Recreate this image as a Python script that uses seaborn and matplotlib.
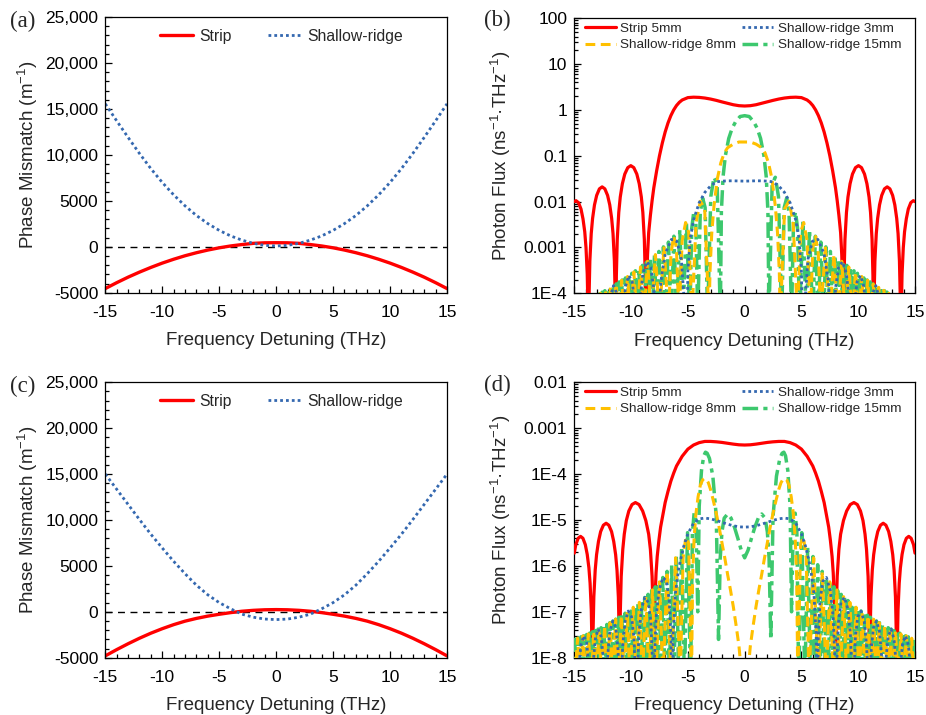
import numpy as np
import matplotlib
matplotlib.use("Agg")
import matplotlib.pyplot as plt
import seaborn as sns
from matplotlib.ticker import FixedLocator, MultipleLocator, LogLocator, NullFormatter

# ---------------- data (curves are symmetric, x >= 0 half given) ----------------
F_HALF = [0, 1, 2, 3, 4, 5, 6, 7, 8, 9, 10, 11, 12, 13, 14, 15]
# panel (a): phase mismatch (1/m)
STRIP_A = [440, 430, 370, 240, 85, -115, -360, -650, -980, -1360, -1780, -2250, -2760, -3310, -3910, -4550]
SHALLOW_A = [80, 150, 370, 720, 1180, 1780, 2520, 3400, 4450, 5650, 7000, 8500, 10150, 11900, 13700, 15550]
# panel (c): phase mismatch (1/m)
STRIP_C = [240, 220, 160, 60, -90, -270, -470, -720, -1020, -1400, -1840, -2330, -2880, -3480, -4120, -4800]
SHALLOW_C = [-850, -790, -590, -260, 330, 1000, 1850, 2900, 4150, 5500, 6950, 8450, 10050, 11700, 13350, 15000]

NB = 3e-5   # value at a null (below the 1E-4 floor) in panel (b)
ND = 3e-9   # value at a null (below the 1E-8 floor) in panel (d)

# panel (b): photon flux, (x THz, y ns^-1 THz^-1)
STRIP_B = [(0, 1.22), (0.5, 1.24), (1, 1.3), (1.5, 1.4), (2, 1.5), (2.5, 1.62), (3, 1.73), (3.5, 1.82),
           (4, 1.88), (4.5, 1.9), (5, 1.86), (5.5, 1.65), (5.75, 1.47), (6, 1.25), (6.25, 1.0), (6.5, 0.75),
           (6.75, 0.52), (7, 0.33), (7.25, 0.19), (7.5, 0.1), (7.75, 0.047), (8, 0.02), (8.15, 0.0105),
           (8.3, 0.005), (8.45, 0.0021), (8.55, 0.0007), (8.62, 0.0002), (8.7, 1e-7),
           (8.753, 2.4e-4), (8.833, 0.0015), (8.965, 0.0058), (9.098, 0.0126), (9.283, 0.0246),
           (9.495, 0.0399), (9.76, 0.0552), (10.025, 0.061), (10.29, 0.0552), (10.555, 0.0399),
           (10.767, 0.0246), (10.953, 0.0126), (11.085, 0.0058), (11.218, 0.0015), (11.297, 2.4e-4),
           (11.35, 1e-7), (11.398, 8.3e-5), (11.47, 5.1e-4), (11.59, 0.002), (11.71, 0.0043),
           (11.878, 0.0085), (12.07, 0.0137), (12.31, 0.019), (12.55, 0.021), (12.79, 0.019),
           (13.03, 0.0137), (13.222, 0.0085), (13.39, 0.0043), (13.51, 0.002), (13.63, 5.1e-4),
           (13.702, 8.3e-5), (13.75, 1e-7), (13.794, 4.1e-5), (13.86, 2.6e-4), (13.97, 0.001),
           (14.08, 0.0022), (14.234, 0.0042), (14.41, 0.0069), (14.63, 0.0095), (14.85, 0.0105),
           (15.0, 0.0100)]
SR3_B = [(0, 0.028), (0.5, 0.0282), (1, 0.0285), (1.5, 0.0284), (2, 0.028), (2.5, 0.027), (3, 0.022),
         (3.5, 0.016), (4, 0.0095), (4.5, 0.004), (4.8, 0.0015), (5.0, 0.0003), (5.2, 1e-7),
         (5.33, 7.6e-5), (5.58, 5.6e-4), (5.97, 0.00137), (6.45, 0.0015), (6.99, 7.4e-4), (7.37, 1.85e-4),
         (7.62, 2e-5), (7.75, 1e-7), (7.84, 1.7e-5), (8.01, 1.34e-4), (8.27, 3.7e-4), (8.61, 4.9e-4),
         (8.95, 2.75e-4), (9.21, 7.6e-5), (9.38, 8e-6), (9.47, 1e-7), (9.54, 7.8e-6), (9.69, 6.2e-5),
         (9.9, 1.8e-4), (10.2, 2.44e-4), (10.49, 1.42e-4), (10.7, 4.1e-5), (10.85, 4.6e-6), (10.92, 1e-7),
         (10.98, 4.3e-6), (11.11, 3.6e-5), (11.3, 1.05e-4), (11.55, 1.47e-4), (11.8, 8.8e-5),
         (11.99, 2.6e-5), (12.12, 3e-6), (12.18, 1e-7), (12.5, 5e-5)]
SR8_B = [(0, 0.2), (0.5, 0.2), (1.0, 0.18), (1.5, 0.15), (1.8, 0.115), (2.1, 0.07), (2.4, 0.032),
         (2.7, 0.008), (2.9, 0.002), (3.05, 0.0003), (3.14, NB), (3.52, 0.007), (3.9, 0.0102),
         (4.27, 0.0036), (4.65, NB), (4.93, 0.00215), (5.2, 0.0035), (5.5, 0.0014), (5.78, NB),
         (6.01, 0.001), (6.25, 0.00174), (6.48, 7.5e-4), (6.71, NB), (7.1, 1.06e-3), (7.5, NB),
         (7.86, 7.0e-4), (8.22, NB), (8.55, 5.0e-4), (8.87, NB), (9.17, 3.76e-4), (9.47, NB),
         (9.76, 2.92e-4), (10.05, NB), (10.31, 2.33e-4), (10.57, NB), (10.83, 1.93e-4), (11.08, NB),
         (11.32, 1.59e-4), (11.56, NB), (11.8, 1.35e-4), (12.03, NB), (12.26, 1.16e-4), (12.48, NB),
         (12.7, 1.0e-4), (12.93, NB)]
SR15_B = [(0, 0.75), (0.4, 0.72), (0.8, 0.55), (1.1, 0.4), (1.4, 0.24), (1.7, 0.1), (1.9, 0.035),
          (2.05, 0.006), (2.14, NB), (2.42, 0.024), (2.7, 0.034), (2.98, 0.0129), (3.26, NB),
          (3.48, 0.0074), (3.7, 0.012), (3.91, 0.0056), (4.13, NB), (4.3, 0.0035), (4.48, 0.006),
          (4.66, 0.0026), (4.83, NB), (5.13, 0.0037), (5.43, NB), (5.71, 0.00245), (5.99, NB),
          (6.23, 0.00176), (6.47, NB), (6.71, 0.00131), (6.95, NB), (7.15, 0.00103), (7.35, NB),
          (7.55, 8.2e-4), (7.75, NB), (7.94, 6.7e-4), (8.13, NB), (8.30, 5.6e-4), (8.48, NB),
          (8.65, 4.75e-4), (8.83, NB), (9.0, 4.07e-4), (9.16, NB), (9.31, 3.5e-4), (9.47, NB),
          (9.62, 3.1e-4), (9.78, NB), (9.93, 2.73e-4), (10.08, NB), (10.22, 2.42e-4), (10.36, NB),
          (10.5, 2.16e-4), (10.64, NB), (10.78, 1.95e-4), (10.92, NB), (11.05, 1.77e-4), (11.18, NB),
          (11.31, 1.6e-4), (11.44, NB), (11.56, 1.46e-4), (11.69, NB), (11.81, 1.34e-4), (11.94, NB),
          (12.06, 1.24e-4), (12.19, NB), (12.31, 1.14e-4), (12.43, NB), (12.54, 1.06e-4), (12.66, NB),
          (12.78, 9.8e-5), (12.9, NB)]

# panel (d): photon flux
STRIP_D = [(0, 4.3e-4), (0.5, 4.35e-4), (1, 4.5e-4), (1.5, 4.7e-4), (2, 4.9e-4), (2.5, 5.05e-4),
           (3, 5.15e-4), (3.5, 5.15e-4), (4, 4.85e-4), (4.5, 4.3e-4), (5, 3.5e-4), (5.5, 2.45e-4),
           (6, 1.5e-4), (6.25, 1.05e-4), (6.5, 7e-5), (6.75, 4.2e-5), (7, 2.4e-5), (7.2, 1.3e-5),
           (7.4, 7e-6), (7.55, 3.6e-6), (7.7, 1.6e-6), (7.8, 7e-7), (7.9, 1.8e-7), (7.95, 4.5e-8),
           (8.0, 1e-11),
           (8.06, 9.5e-8), (8.15, 5.9e-7), (8.3, 2.3e-6), (8.45, 4.9e-6), (8.7, 9.7e-6), (8.98, 1.57e-5),
           (9.3, 2.17e-5), (9.62, 2.4e-5), (9.92, 2.17e-5), (10.2, 1.57e-5), (10.42, 9.7e-6), (10.6, 4.9e-6),
           (10.73, 2.3e-6), (10.87, 5.9e-7), (10.95, 9.5e-8), (11.0, 1e-11),
           (11.048, 3.3e-8), (11.12, 2.1e-7), (11.24, 8.1e-7), (11.36, 1.75e-6), (11.528, 3.4e-6),
           (11.72, 5.6e-6), (11.96, 7.7e-6), (12.2, 8.5e-6), (12.44, 7.7e-6), (12.68, 5.6e-6),
           (12.872, 3.4e-6), (13.04, 1.75e-6), (13.16, 8.1e-7), (13.28, 2.1e-7), (13.352, 3.3e-8),
           (13.4, 1e-11),
           (13.442, 1.7e-8), (13.505, 1.1e-7), (13.61, 4.2e-7), (13.715, 9.1e-7), (13.862, 1.78e-6),
           (14.03, 2.9e-6), (14.24, 4.0e-6), (14.45, 4.4e-6), (14.66, 4.0e-6), (14.87, 2.9e-6),
           (15.0, 1.9e-6)]
SR3_D = [(0, 7e-6), (0.5, 7.1e-6), (1.0, 7.5e-6), (1.5, 8.1e-6), (2.0, 8.9e-6), (2.5, 9.8e-6),
         (3.0, 1.06e-5), (3.5, 1.1e-5), (4.0, 1.06e-5), (4.5, 8.5e-6), (5.0, 5e-6), (5.4, 2.5e-6),
         (5.8, 9e-7), (6.1, 2.5e-7), (6.3, 3e-8), (6.4, 1e-10), (6.48, 2.5e-8), (6.64, 1.8e-7),
         (6.89, 4.7e-7), (7.2, 5.6e-7), (7.54, 2.9e-7), (7.79, 7.9e-8), (7.95, 8.8e-9), (8.03, 1e-10),
         (8.11, 7.6e-9), (8.26, 5.9e-8), (8.48, 1.6e-7), (8.79, 2.06e-7), (9.09, 1.15e-7), (9.31, 3.3e-8),
         (9.46, 3.7e-9), (9.54, 1e-10), (9.61, 3.2e-9), (9.75, 2.8e-8), (9.96, 7.8e-8), (10.25, 1.04e-7),
         (10.53, 6.1e-8), (10.74, 1.8e-8), (10.88, 2e-9), (10.95, 1e-10), (11.02, 1.9e-9), (11.15, 1.5e-8),
         (11.34, 4.5e-8), (11.6, 6.3e-8), (11.87, 3.8e-8), (12.06, 1.1e-8), (12.2, 1.3e-9), (12.26, 1e-10),
         (12.45, 9.9e-9), (12.64, 2.9e-8), (12.9, 4.2e-8), (13.15, 2.55e-8), (13.34, 7.6e-9),
         (13.53, 1e-10), (13.72, 6.8e-9), (13.91, 2.1e-8), (14.17, 3.0e-8), (14.42, 1.86e-8),
         (14.61, 5.7e-9), (14.8, 1e-10), (15.0, 5e-9)]
SR8_D = [(0, 1e-10), (0.3, 5e-9), (0.5, 1.8e-8), (0.75, 5e-8), (1.0, 1.3e-7), (1.25, 3e-7), (1.5, 6.5e-7),
         (1.75, 1.5e-6), (2.0, 3.2e-6), (2.25, 7e-6), (2.5, 1.4e-5), (2.75, 2.6e-5), (3.0, 4.6e-5),
         (3.2, 6.5e-5), (3.4, 7.9e-5), (3.55, 8e-5), (3.7, 7.5e-5), (3.9, 5.8e-5), (4.1, 3.2e-5),
         (4.3, 1.3e-5), (4.45, 4e-6), (4.58, 6e-7), (4.68, ND), (4.93, 3.1e-6), (5.18, 4.2e-6),
         (5.42, 1.5e-6), (5.67, ND), (6.08, 1.5e-6), (6.48, ND), (6.84, 7.5e-7), (7.19, ND), (7.5, 4.5e-7),
         (7.82, ND), (8.12, 3.0e-7), (8.42, ND), (8.71, 2.14e-7), (9.0, ND), (9.27, 1.61e-7), (9.54, ND),
         (9.81, 1.26e-7), (10.08, ND), (10.34, 1.0e-7), (10.6, ND), (10.86, 8.2e-8), (11.12, ND),
         (11.36, 6.9e-8), (11.61, ND), (11.85, 5.8e-8), (12.1, ND), (12.33, 5.0e-8), (12.57, ND),
         (12.81, 4.3e-8), (13.05, ND), (13.28, 3.8e-8), (13.52, ND), (13.76, 3.3e-8), (14.0, ND),
         (14.24, 3.0e-8), (14.48, ND), (14.71, 2.66e-8), (14.95, ND), (15.1, 1e-8)]
SR15_D = [(0, 1.5e-6), (0.3, 2.2e-6), (0.6, 4e-6), (0.9, 7e-6), (1.2, 1.1e-5), (1.5, 1.35e-5), (1.8, 1.1e-5),
          (2.0, 5.5e-6), (2.15, 1.5e-6), (2.3, 2.5e-8), (2.5, 1.2e-5), (2.8, 9e-5), (3.1, 2.2e-4),
          (3.3, 2.85e-4), (3.45, 3e-4), (3.6, 2.5e-4), (3.8, 1.2e-4), (4.0, 2e-5), (4.13, 1e-7),
          (4.29, 1.0e-5), (4.45, 1.41e-5), (4.6, 5.2e-6), (4.76, ND), (5.03, 5.3e-6), (5.30, ND),
          (5.55, 2.6e-6), (5.80, ND), (6.02, 1.6e-6), (6.23, ND), (6.43, 1.06e-6), (6.63, ND),
          (6.83, 7.6e-7), (7.03, ND), (7.2, 5.6e-7), (7.36, ND), (7.53, 4.4e-7), (7.70, ND),
          (7.87, 3.5e-7), (8.03, ND), (8.19, 2.9e-7), (8.34, ND), (8.5, 2.4e-7), (8.65, ND),
          (8.8, 2.05e-7), (8.96, ND), (9.1, 1.76e-7), (9.25, ND), (9.4, 1.51e-7), (9.54, ND),
          (9.68, 1.33e-7), (9.83, ND), (9.97, 1.17e-7), (10.12, ND), (10.25, 1.04e-7), (10.39, ND),
          (10.53, 9.3e-8), (10.67, ND), (10.81, 8.4e-8), (10.95, ND), (11.08, 7.6e-8), (11.22, ND),
          (11.35, 6.9e-8), (11.48, ND), (11.61, 6.3e-8), (11.74, ND), (11.87, 5.8e-8), (12.0, ND),
          (12.13, 5.3e-8), (12.26, ND), (12.38, 4.9e-8), (12.51, ND), (12.64, 4.5e-8), (12.77, ND),
          (12.9, 4.2e-8), (13.02, ND), (13.15, 3.9e-8), (13.27, ND), (13.4, 3.67e-8), (13.53, ND),
          (13.65, 3.43e-8), (13.78, ND), (13.91, 3.2e-8), (14.04, ND), (14.16, 3.0e-8), (14.29, ND),
          (14.41, 2.85e-8), (14.54, ND), (14.67, 2.68e-8), (14.8, ND), (14.92, 2.53e-8), (15.05, ND)]

X_TICKS = [-15, -10, -5, 0, 5, 10, 15]
X_LABELS = ["-15", "-10", "-5", "0", "5", "10", "15"]
PM_TICKS = [-5000, 0, 5000, 10000, 15000, 20000, 25000]
PM_LABELS = ["-5000", "0", "5000", "10,000", "15,000", "20,000", "25,000"]
B_TICKS = [1e-4, 1e-3, 1e-2, 1e-1, 1, 10, 100]
B_LABELS = ["1E-4", "0.001", "0.01", "0.1", "1", "10", "100"]
D_TICKS = [1e-8, 1e-7, 1e-6, 1e-5, 1e-4, 1e-3, 1e-2]
D_LABELS = ["1E-8", "1E-7", "1E-6", "1E-5", "1E-4", "0.001", "0.01"]

PANEL_TAGS = ["(a)", "(b)", "(c)", "(d)"]
PM_NAMES = ["Strip", "Shallow-ridge"]
FLUX_NAMES = ["Strip 5mm", "Shallow-ridge 3mm", "Shallow-ridge 8mm", "Shallow-ridge 15mm"]

# ---------------- styling ----------------
sns.set_style("white")
plt.rcParams["font.family"] = ["Liberation Sans", "DejaVu Sans"]
plt.rcParams["mathtext.fontset"] = "custom"
plt.rcParams["mathtext.rm"] = "Liberation Sans"
plt.rcParams["mathtext.it"] = "Liberation Sans:italic"
plt.rcParams["axes.edgecolor"] = "black"
plt.rcParams["axes.linewidth"] = 0.9

RED = "#FF0000"
BLUE = "#3468B0"
YELLOW = "#FFC000"
GREEN = "#3DC86E"
LS_DOT = (0, (1.0, 1.1))
LS_DASH = (0, (3.2, 1.8))
LS_DASHDOT = (0, (4.5, 1.5, 1.2, 1.5))


def mirror(xh, yh):
    xs = list(xh)
    ys = list(yh)
    xl = [-xs[i] for i in range(len(xs) - 1, -1, -1) if xs[i] > 0]
    yl = [ys[i] for i in range(len(xs) - 1, -1, -1) if xs[i] > 0]
    return np.array(xl + xs, dtype=float), np.array(yl + ys, dtype=float)


def mirror_pairs(pairs):
    return mirror([p[0] for p in pairs], [p[1] for p in pairs])


fig = plt.figure(figsize=(9.26, 7.15), dpi=100)
W, H = 926.0, 715.0
boxes = {
    "a": (105.3, 17.0, 447.0, 292.7),
    "b": (574.3, 18.3, 915.0, 293.3),
    "c": (105.3, 382.3, 447.0, 657.7),
    "d": (574.3, 382.3, 915.0, 657.7),
}
axes = {}
for k, (l, t, r, b) in boxes.items():
    axes[k] = fig.add_axes([l / W, 1 - b / H, (r - l) / W, (b - t) / H])


def style_common(ax):
    ax.set_xlim(-15, 15)
    ax.xaxis.set_major_locator(FixedLocator(X_TICKS))
    ax.set_xticklabels(X_LABELS)
    ax.xaxis.set_minor_locator(MultipleLocator(1))
    ax.tick_params(which="both", direction="in", top=False, right=False, bottom=True, left=True,
                   colors="black", labelsize=12.5, width=0.9)
    ax.tick_params(which="major", length=5)
    ax.tick_params(which="minor", length=2.8)
    ax.tick_params(axis="y", which="major", pad=5)
    ax.tick_params(axis="x", which="major", pad=8.5)
    ax.set_xlabel("Frequency Detuning (THz)", fontsize=13.5, labelpad=9)
    for s in ax.spines.values():
        s.set_visible(True)
        s.set_color("black")
        s.set_linewidth(0.9)


# ---- phase mismatch panels ----
for key, strip, shallow in (("a", STRIP_A, SHALLOW_A), ("c", STRIP_C, SHALLOW_C)):
    ax = axes[key]
    x, y = mirror(F_HALF, strip)
    sns.lineplot(x=x, y=y, ax=ax, color=RED, lw=2.4, sort=False, estimator=None, label=PM_NAMES[0])
    x, y = mirror(F_HALF, shallow)
    sns.lineplot(x=x, y=y, ax=ax, color=BLUE, lw=2.0, sort=False, estimator=None, label=PM_NAMES[1],
                 linestyle=LS_DOT, dash_capstyle="butt")
    ax.axhline(0, color="black", lw=1.0, linestyle=(0, (5, 4)), zorder=1)
    ax.set_ylim(-5000, 25000)
    ax.yaxis.set_major_locator(FixedLocator(PM_TICKS))
    ax.set_yticklabels(PM_LABELS)
    ax.yaxis.set_minor_locator(MultipleLocator(1000))
    style_common(ax)
    ax.set_ylabel(r"Phase Mismatch (m$^{\mathregular{-1}}$)", fontsize=13.5, labelpad=4)
    h = ax.get_lines()[:2]
    ax.legend(handles=h, labels=PM_NAMES, loc="upper left", bbox_to_anchor=(0.16, 0.958), ncol=2,
              frameon=False, fontsize=11.3, handlelength=2.1, handletextpad=0.4, columnspacing=2.3,
              borderpad=0, borderaxespad=0)

# ---- photon flux panels ----
for key, strip, s3, s8, s15, ticks, labels in (
        ("b", STRIP_B, SR3_B, SR8_B, SR15_B, B_TICKS, B_LABELS),
        ("d", STRIP_D, SR3_D, SR8_D, SR15_D, D_TICKS, D_LABELS)):
    ax = axes[key]
    ax.set_yscale("log")
    x, y = mirror_pairs(strip)
    sns.lineplot(x=x, y=y, ax=ax, color=RED, lw=2.3, sort=False, estimator=None, label=FLUX_NAMES[0], zorder=3)
    x, y = mirror_pairs(s15)
    sns.lineplot(x=x, y=y, ax=ax, color=GREEN, lw=2.5, sort=False, estimator=None, label=FLUX_NAMES[3],
                 linestyle=LS_DASHDOT, zorder=4)
    x, y = mirror_pairs(s8)
    sns.lineplot(x=x, y=y, ax=ax, color=YELLOW, lw=2.2, sort=False, estimator=None, label=FLUX_NAMES[2],
                 linestyle=LS_DASH, zorder=5)
    x, y = mirror_pairs(s3)
    sns.lineplot(x=x, y=y, ax=ax, color=BLUE, lw=2.0, sort=False, estimator=None, label=FLUX_NAMES[1],
                 linestyle=LS_DOT, dash_capstyle="butt", zorder=6)
    ax.set_ylim(ticks[0], ticks[-1])
    ax.yaxis.set_major_locator(FixedLocator(ticks))
    ax.set_yticklabels(labels)
    ax.yaxis.set_minor_locator(LogLocator(base=10, subs=np.arange(2, 10)))
    ax.yaxis.set_minor_formatter(NullFormatter())
    style_common(ax)
    ax.set_ylabel("Photon Flux (ns$^{\\mathregular{-1}}$\u00b7THz$^{\\mathregular{-1}}$)", fontsize=13.5, labelpad=8)
    ln = ax.get_lines()
    order = [ln[0], ln[2], ln[3], ln[1]]   # strip, 8mm, 3mm, 15mm -> rows: strip|3mm, 8mm|15mm
    names = [FLUX_NAMES[0], FLUX_NAMES[2], FLUX_NAMES[1], FLUX_NAMES[3]]
    ax.legend(handles=order, labels=names, loc="upper left", bbox_to_anchor=(0.03, 0.985), ncol=2,
              frameon=False, fontsize=9.7, handlelength=2.3, handletextpad=0.35, columnspacing=0.45,
              labelspacing=0.3, borderpad=0, borderaxespad=0)

tag_pos = {"a": (10, 21), "b": (484, 20), "c": (10, 386), "d": (484, 385)}
for tag, key in zip(PANEL_TAGS, ["a", "b", "c", "d"]):
    px, py = tag_pos[key]
    fig.text(px / W, 1 - py / H, tag, fontsize=16.5, family=["Liberation Serif", "DejaVu Serif"],
             ha="left", va="center")

fig.savefig("out.png", dpi=100)
